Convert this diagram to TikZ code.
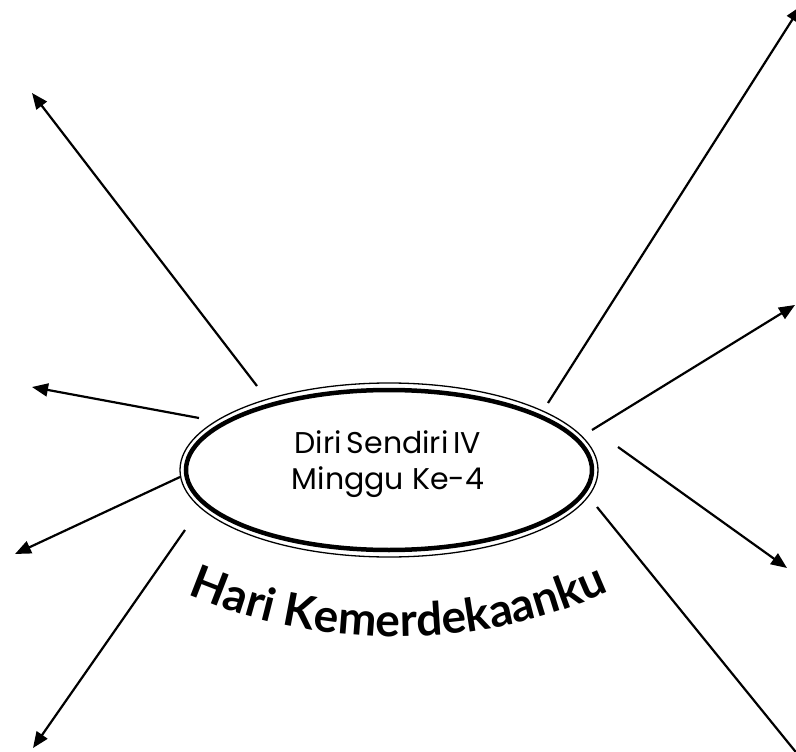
\documentclass[tikz,border=0pt]{standalone}
\usepackage{fontspec}
\setmainfont{Poppins}
\newfontfamily\hurufjudul{Lato}
\usepackage{tikz}
\usetikzlibrary{arrows.meta,positioning,shapes.geometric,decorations.text}

\tikzset{
  arr/.style={-{Triangle[length=16pt,width=13pt]}, line width=2.2pt},
  pusat/.style={ellipse, draw, line width=4.5pt, inner sep=0pt,
    minimum width=406pt, minimum height=160pt},
}

\begin{document}
\begin{tikzpicture}[x=1pt, y=-1pt]
  \useasboundingbox (0,0) rectangle (796,752);

  %% central ellipse (thick inner, thin outer)
  \node[pusat] (topik) at (389,470) {};
  \draw[line width=1.3pt] (topik.center) ellipse (209pt and 87pt);
  \node[font=\fontsize{30}{36}\selectfont, align=center] (judul) at (388,464)
    {Diri\,Sendiri\,IV\\Minggu Ke-4};

  %% curved title under the ellipse
  \path[decorate, decoration={text along path, text align=center,
      text format delimiters={|}{|},
      text={|\hurufjudul\fontsize{46}{46}\selectfont\bfseries|Hari Kemerdekaanku}}]
    (185,593) .. controls (320,652) and (480,652) .. (612,590);

  %% arrows
  \coordinate (s1) at (257,386); \coordinate (e1) at (32,93);
  \coordinate (s2) at (199,418); \coordinate (e2) at (32,387);
  \coordinate (s3) at (180,477); \coordinate (e3) at (15,554);
  \coordinate (s4) at (185,530); \coordinate (e4) at (33,748);
  \coordinate (s5) at (548,403); \coordinate (e5) at (801,6);
  \coordinate (s6) at (592,430); \coordinate (e6) at (795,305);
  \coordinate (s7) at (618,447); \coordinate (e7) at (787,568);
  \coordinate (s8) at (597,507); \coordinate (e8) at (812,772);

  \foreach \i in {1,...,8}
    \draw[arr] (s\i) -- (e\i);
\end{tikzpicture}
\end{document}
